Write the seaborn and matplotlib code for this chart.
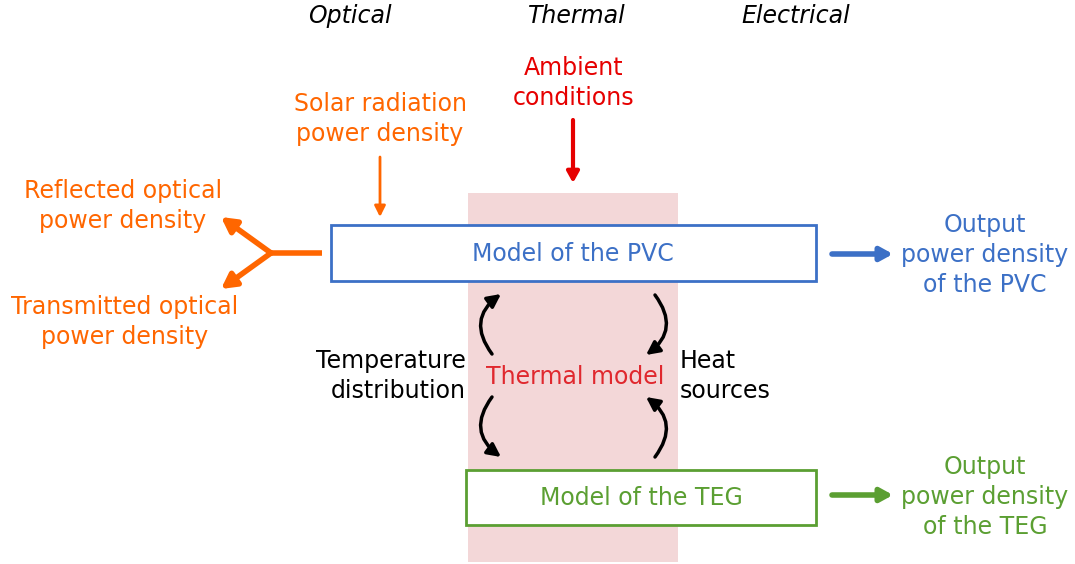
import matplotlib
matplotlib.use("Agg")
import matplotlib.pyplot as plt
import seaborn as sns
from matplotlib.patches import Rectangle, FancyArrowPatch

# --- texts of the diagram ---------------------------------------------------
domain_labels = ["Optical", "Thermal", "Electrical"]
pvc_label = "Model of the PVC"
teg_label = "Model of the TEG"
thermal_label = "Thermal model"
ambient_label = "Ambient\nconditions"
solar_label = "Solar radiation\npower density"
reflected_label = "Reflected optical\npower density"
transmitted_label = "Transmitted optical\npower density"
out_pvc_label = "Output\npower density\nof the PVC"
out_teg_label = "Output\npower density\nof the TEG"
temp_label = "Temperature\ndistribution"
heat_label = "Heat\nsources"

BLUE = "#3C70C6"
GREEN = "#5B9F32"
ORANGE = "#FF6600"
RED = "#E60000"
RED_TXT = "#E0282E"
PINK = "#F3D7D8"
FS = 17
LS = 1.3

sns.set_theme(style="white")
plt.rcParams["font.family"] = ["DejaVu Sans"]

fig = plt.figure(figsize=(10.75, 5.64), dpi=100)
ax = fig.add_axes([0, 0, 1, 1])
ax.set_xlim(0, 1075)
ax.set_ylim(564, 0)
ax.axis("off")

# thermal domain background
ax.add_patch(Rectangle((468, 193), 210, 369, facecolor=PINK, edgecolor="none", zorder=0))

# model boxes
ax.add_patch(Rectangle((331, 225), 485, 56, facecolor="white", edgecolor=BLUE, lw=2, zorder=2))
ax.text(573, 254, pvc_label, color=BLUE, fontsize=FS, ha="center", va="center", zorder=3)
ax.add_patch(Rectangle((466, 470), 350, 55, facecolor="white", edgecolor=GREEN, lw=2, zorder=2))
ax.text(641, 498, teg_label, color=GREEN, fontsize=FS, ha="center", va="center", zorder=3)

# headers
for lbl, x in zip(domain_labels, [350, 577, 796]):
    ax.text(x, 16, lbl, fontsize=FS, style="italic", ha="center", va="center", color="black")

ax.text(574, 83, ambient_label, color=RED, fontsize=FS, ha="center", va="center", linespacing=LS)
ax.text(380, 119, solar_label, color=ORANGE, fontsize=FS, ha="center", va="center", linespacing=LS)
ax.text(123, 206, reflected_label, color=ORANGE, fontsize=FS, ha="center", va="center", linespacing=LS)
ax.text(125, 322, transmitted_label, color=ORANGE, fontsize=FS, ha="center", va="center", linespacing=LS)
ax.text(985, 255, out_pvc_label, color=BLUE, fontsize=FS, ha="center", va="center", linespacing=LS)
ax.text(985, 497, out_teg_label, color=GREEN, fontsize=FS, ha="center", va="center", linespacing=LS)
ax.text(575, 377, thermal_label, color=RED_TXT, fontsize=FS, ha="center", va="center", zorder=3)
ax.text(466, 376, temp_label, color="black", fontsize=FS, ha="right", va="center",
        multialignment="right", linespacing=LS)
ax.text(680, 376, heat_label, color="black", fontsize=FS, ha="left", va="center",
        multialignment="left", linespacing=LS)


def arrow(p0, p1, color, lw, rad=0.0, hl=10, hw=7):
    a = FancyArrowPatch(p0, p1, arrowstyle=f"-|>,head_length={hl/1.39:.2f},head_width={hw/1.39:.2f}",
                        connectionstyle=f"arc3,rad={rad}", color=color, lw=lw,
                        shrinkA=0, shrinkB=0, mutation_scale=1, zorder=4)
    ax.add_patch(a)


# straight arrows
arrow((573, 120), (573, 183), RED, 3, hl=9, hw=5)
arrow((380, 157), (380, 217), ORANGE, 2, hl=9, hw=4.5)
arrow((832, 254), (893, 254), BLUE, 4, hl=10, hw=5.5)
arrow((832, 495), (893, 495), GREEN, 4, hl=10, hw=5.5)

# reflection / transmission split
ax.plot([322, 270], [253, 253], color=ORANGE, lw=4, solid_capstyle="butt", zorder=4)
arrow((271, 253), (221, 217), ORANGE, 4, hl=12, hw=6.5)
arrow((271, 253), (221, 289), ORANGE, 4, hl=12, hw=6.5)

# coupling arrows around the thermal model
arrow((492, 354), (501, 294), "black", 2.5, rad=-0.5, hl=11, hw=5.5)
arrow((655, 295), (646, 355), "black", 2.5, rad=-0.5, hl=11, hw=5.5)
arrow((492, 397), (501, 457), "black", 2.5, rad=0.5, hl=11, hw=5.5)
arrow((655, 457), (646, 397), "black", 2.5, rad=0.5, hl=11, hw=5.5)

fig.savefig("out.png", dpi=100)
